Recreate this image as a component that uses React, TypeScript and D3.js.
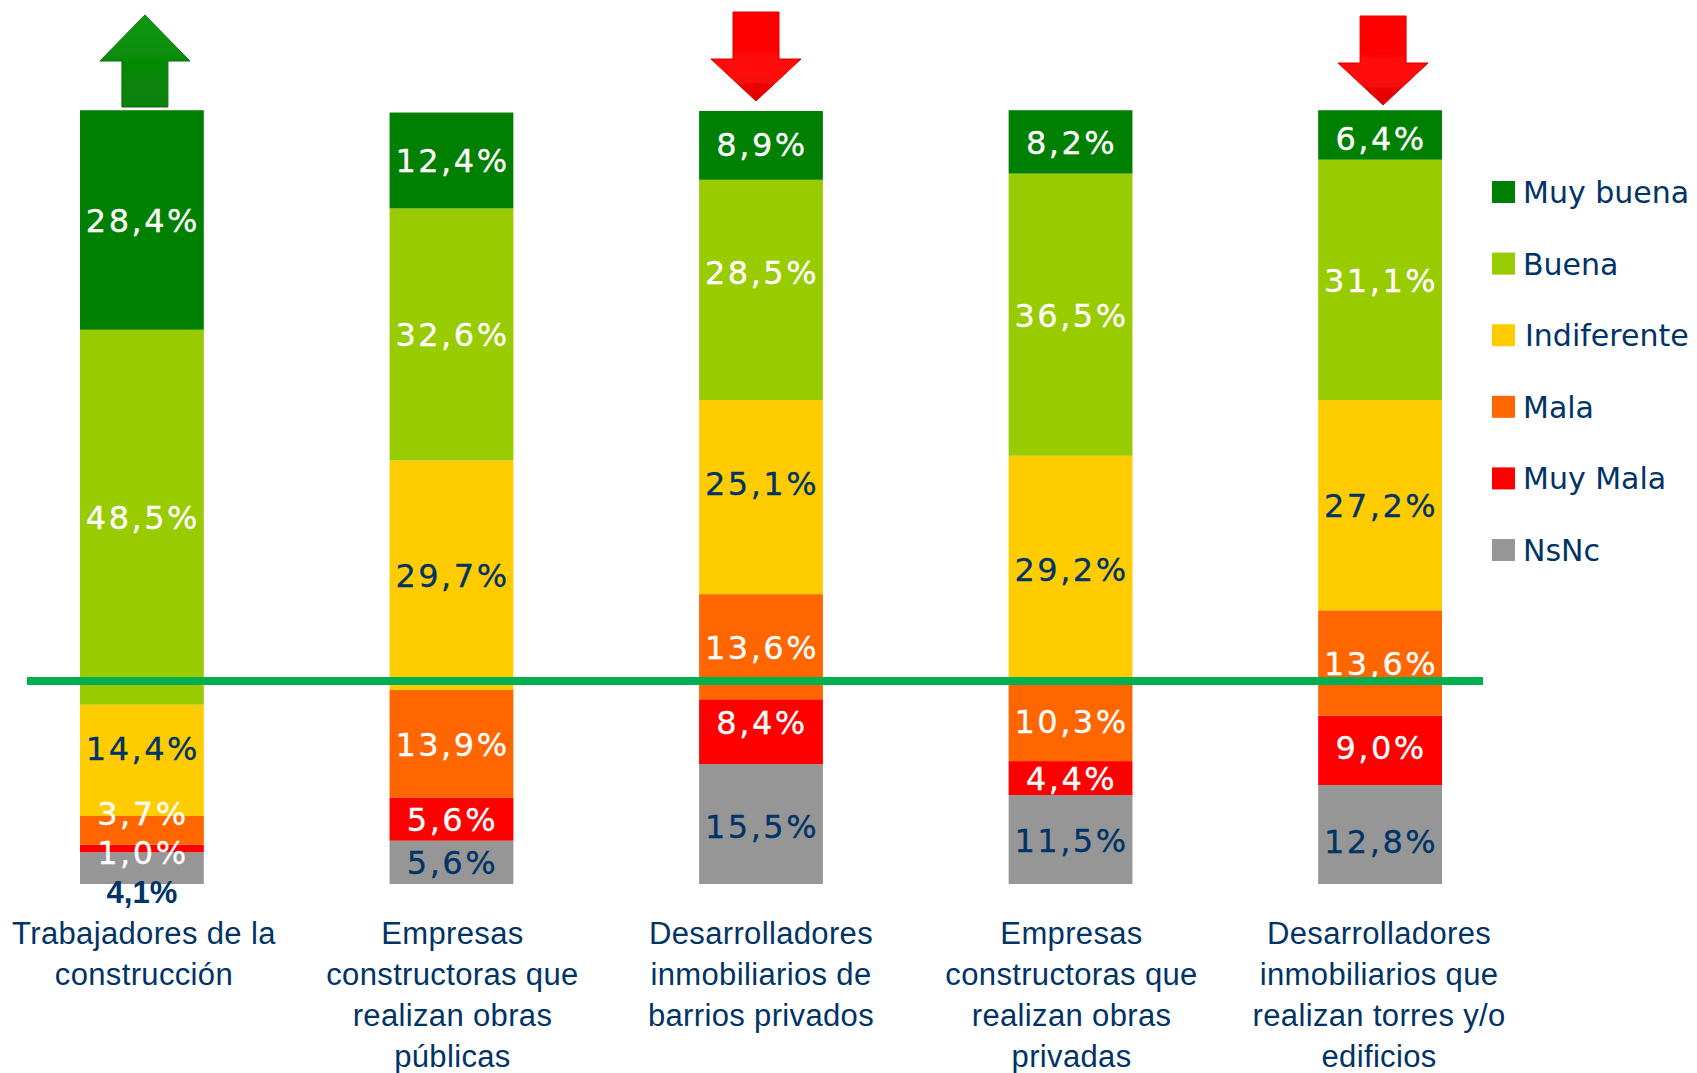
import React from "react";
import * as d3 from "d3";

const categories = [
  ["Trabajadores de la", "construcción"],
  ["Empresas", "constructoras que", "realizan obras", "públicas"],
  ["Desarrolladores", "inmobiliarios de", "barrios privados"],
  ["Empresas", "constructoras que", "realizan obras", "privadas"],
  ["Desarrolladores", "inmobiliarios que", "realizan torres y/o", "edificios"],
];
const seriesNames = ["Muy buena", "Buena", "Indiferente", "Mala", "Muy Mala", "NsNc"];
const seriesColors = ["#008000", "#99CC00", "#FFCC00", "#FF6600", "#FF0000", "#969696"];
const labelColors = ["#fff", "#fff", "#003366", "#fff", "#fff", "#003366"];

const muyBuena = [28.4, 12.4, 8.9, 8.2, 6.4];
const buena = [48.5, 32.6, 28.5, 36.5, 31.1];
const indiferente = [14.4, 29.7, 25.1, 29.2, 27.2];
const mala = [3.7, 13.9, 13.6, 10.3, 13.6];
const muyMala = [1.0, 5.6, 8.4, 4.4, 9.0];
const nsnc = [4.1, 5.6, 15.5, 11.5, 12.8];
const allSeries = [muyBuena, buena, indiferente, mala, muyMala, nsnc];

// which way each group moved, 0 = no arrow
const arrowDirection = [1, 0, -1, 0, -1];

// hand placed things in the original
const labelShifts: [number, number, number][] = [
  [0, 2, -11],
  [0, 3, -16],
  [0, 4, 5],
  [0, 5, 24],
  [2, 0, 0],
  [2, 1, -17],
  [2, 2, -13],
  [2, 4, -9],
  [2, 5, 3],
  [4, 0, 4],
  [4, 4, -2],
  [4, 5, 7],
];
const arrowNudge: [number, number][] = [[3, 0], [0, 0], [-5, -1], [0, 0], [3, 3]];
const catNudge = [2, 1, 0, 1, -1];

const width = 1697;
const height = 1073;
const navy = "#003366";
const textFont = "'DejaVu Sans', sans-serif";
const catFont = "'Liberation Sans', sans-serif";

const x = d3.scaleBand<number>().domain(d3.range(categories.length)).range([80, 1442]).paddingInner(0.6).paddingOuter(0);
const y = d3.scaleLinear().domain([0, 100]).range([884, 111]);
const legendY = d3.scalePoint<string>().domain(seriesNames).range([192, 550]);

const rows = categories.map((_, i) => {
  const row: Record<string, number> = {};
  seriesNames.forEach((s, k) => (row[s] = allSeries[k][i]));
  return row;
});
// stacked from the bottom, NsNc first
const stacked = d3.stack<Record<string, number>>().keys([...seriesNames].reverse())(rows);

function fmt(v: number) {
  return v.toFixed(1).replace(".", ",") + "%";
}

function Arrow({ cx, dy, dir }: { cx: number; dy: number; dir: number }) {
  const up = dir > 0;
  const tip = (up ? 15 : 102) + dy;
  const base = (up ? 61 : 60) + dy;
  const tail = (up ? 107 : 13) + dy;
  const pts = [
    [cx, tip],
    [cx + 45, base],
    [cx + 23, base],
    [cx + 23, tail],
    [cx - 23, tail],
    [cx - 23, base],
    [cx - 45, base],
  ];
  const id = up ? "arrowUp" : "arrowDown";
  return (
    <polygon
      points={pts.map((p) => p.join(",")).join(" ")}
      fill={`url(#${id})`}
      stroke={up ? "#0A6E0A" : "#E00000"}
      strokeWidth={1}
      filter="url(#soft)"
    />
  );
}

export default function App() {
  return (
    <svg
      width={width}
      height={height}
      viewBox={`0 0 ${width} ${height}`}
      style={{ position: "absolute", left: 0, top: 0, background: "#fff" }}
    >
      <defs>
        <filter id="soft">
          <feGaussianBlur stdDeviation="0.6" />
        </filter>
        <linearGradient id="arrowUp" x1="0" x2="0" y1="0" y2="1">
          <stop offset="0" stopColor="#129A12" />
          <stop offset="0.5" stopColor="#068A06" />
          <stop offset="1" stopColor="#087F08" />
        </linearGradient>
        <linearGradient id="arrowDown" x1="0" x2="0" y1="0" y2="1">
          <stop offset="0" stopColor="#FF0000" />
          <stop offset="0.7" stopColor="#FF0A0A" />
          <stop offset="1" stopColor="#D80000" />
        </linearGradient>
      </defs>

      {stacked.map((layer) =>
        layer.map((d, i) => (
          <rect
            key={layer.key + i}
            x={x(i)}
            width={x.bandwidth()}
            y={y(d[1])}
            height={y(d[0]) - y(d[1])}
            fill={seriesColors[seriesNames.indexOf(layer.key)]}
          />
        ))
      )}

      {stacked.map((layer) => {
        const k = seriesNames.indexOf(layer.key);
        return layer.map((d, i) => {
          const shift = labelShifts.find((s) => s[0] === i && s[1] === k);
          const cy = (y(d[0]) + y(d[1])) / 2 + (shift ? shift[2] : 1);
          const bold = i === 0 && k === 5;
          return (
            <text
              key={layer.key + i}
              x={x(i)! + x.bandwidth() / 2 + (bold ? 0 : 1)}
              y={cy + 11}
              textAnchor="middle"
              fontFamily={bold ? catFont : textFont}
              fontWeight={bold ? 700 : 400}
              fontSize={bold ? 31 : 32}
              letterSpacing={bold ? 0 : 2.5}
              fill={labelColors[k]}
              stroke={labelColors[k]}
              strokeWidth={bold ? 0 : 0.3}
            >
              {fmt(allSeries[k][i])}
            </text>
          );
        });
      })}

      {/* the line goes over the labels, it clips the comma of the last 13,6% */}
      <rect x={27} y={677} width={1456} height={8} fill="#00B050" />

      {arrowDirection.map((dir, i) =>
        dir === 0 ? null : (
          <Arrow key={i} cx={x(i)! + x.bandwidth() / 2 + arrowNudge[i][0]} dy={arrowNudge[i][1]} dir={dir} />
        )
      )}

      {categories.map((lines, i) => (
        <text key={i} textAnchor="middle" fontFamily={catFont} fontSize={31} letterSpacing={0.35} fill={navy}>
          {lines.map((line, j) => (
            <tspan key={j} x={x(i)! + x.bandwidth() / 2 + catNudge[i]} y={944 + j * 41}>
              {line}
            </tspan>
          ))}
        </text>
      ))}

      {seriesNames.map((name, k) => (
        <g key={name} transform={`translate(0,${legendY(name)})`}>
          <rect x={1492} y={-11} width={23} height={22} fill={seriesColors[k]} />
          <text x={name === "Indiferente" ? 1525 : 1523} y={11} fontFamily={textFont} fontSize={30} fill={navy}>
            {name}
          </text>
        </g>
      ))}
    </svg>
  );
}
